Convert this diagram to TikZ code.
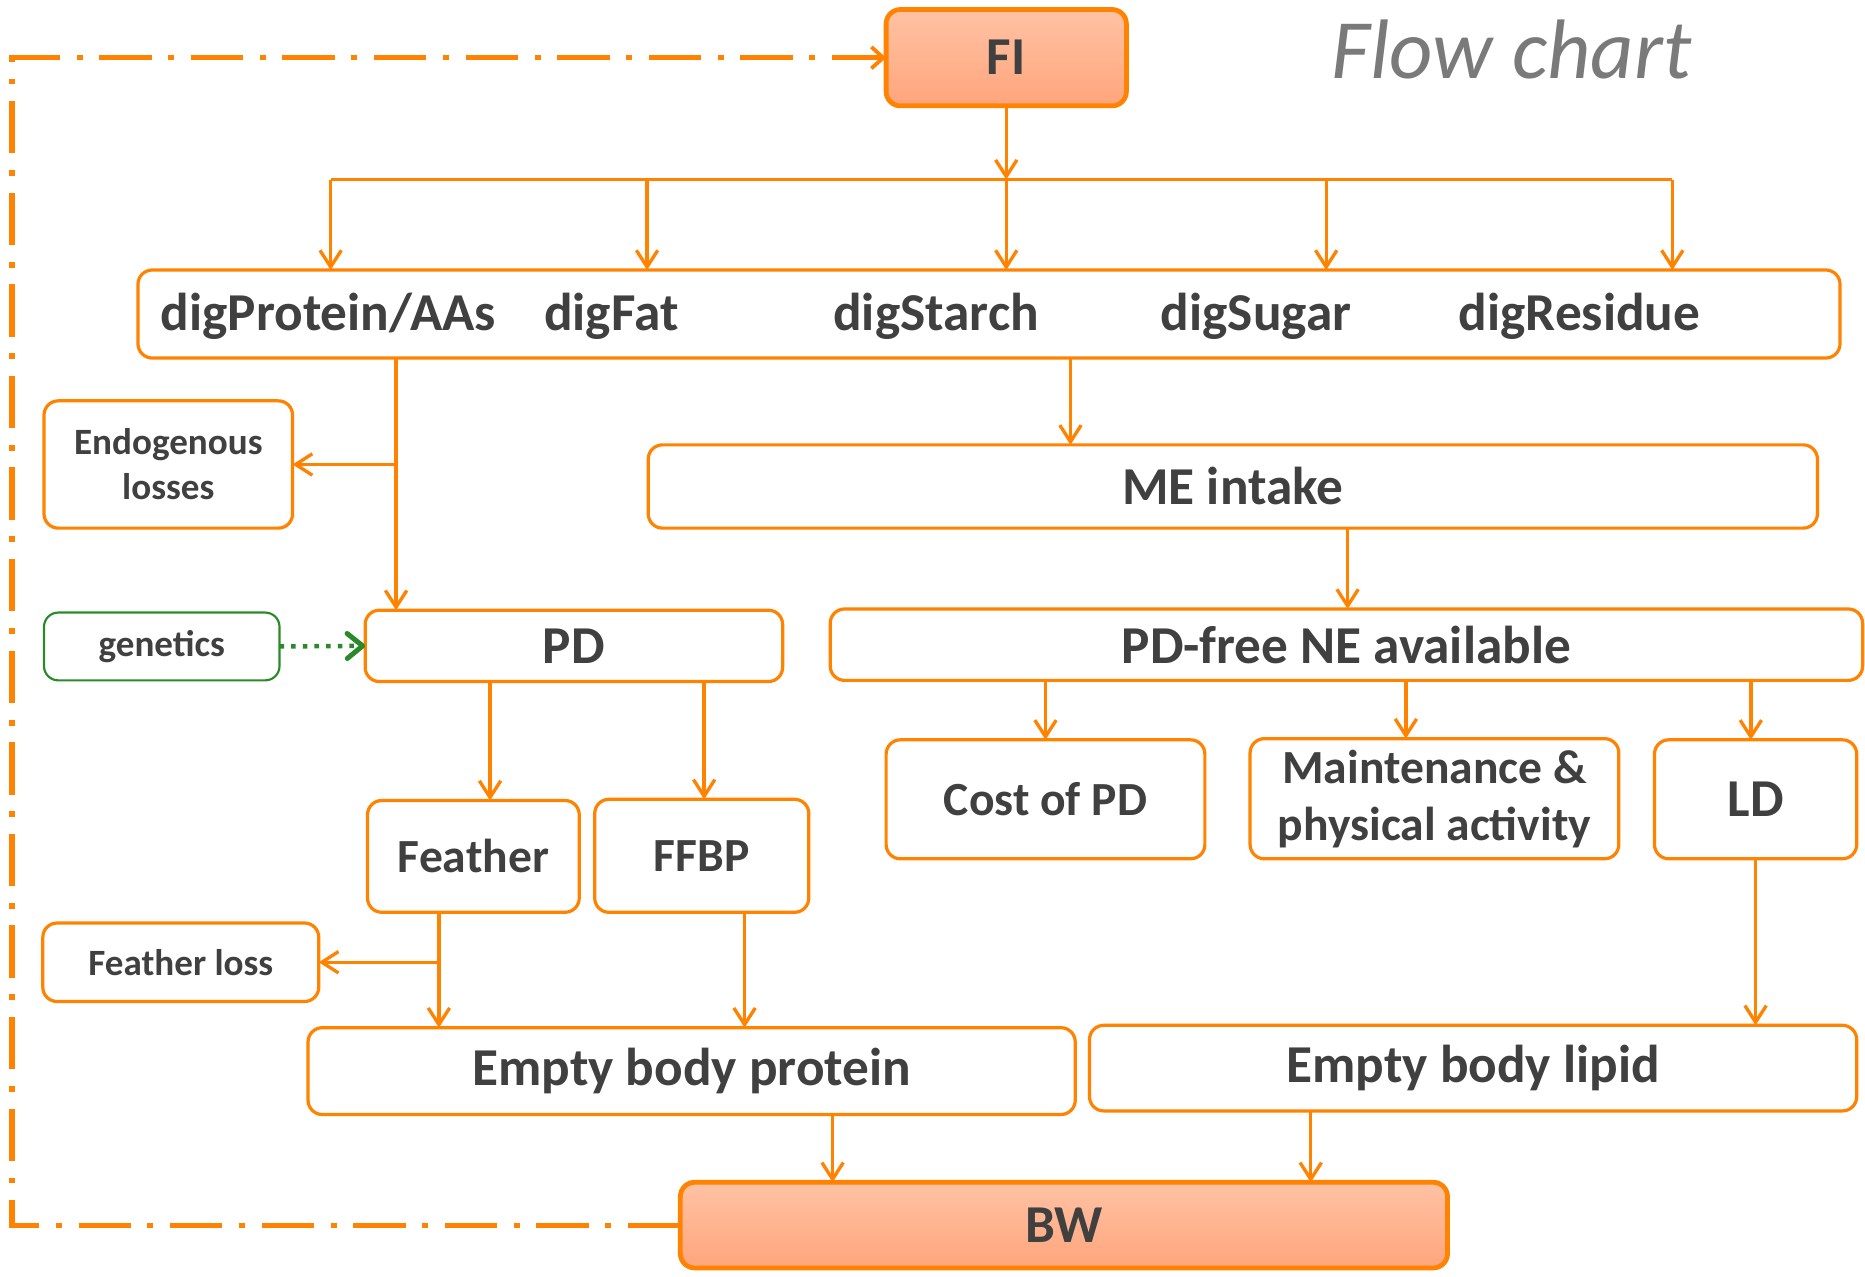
\documentclass[tikz,border=0pt]{standalone}
\usepackage{fontspec}
\setmainfont{Carlito}
\usetikzlibrary{arrows.meta,calc}
\definecolor{org}{HTML}{FF8200}
\definecolor{txt}{HTML}{404040}
\definecolor{grn}{HTML}{2A8A2A}
\definecolor{ttl}{HTML}{7A7A7A}
\definecolor{fillA}{HTML}{FFC2A4}
\definecolor{fillB}{HTML}{FFA57C}
\newcommand{\bigf}{\fontsize{22.4}{24}\selectfont\bfseries}
\newcommand{\midf}{\fontsize{20}{24}\selectfont\bfseries}
\newcommand{\smallf}{\fontsize{15.6}{19}\selectfont\bfseries}
\tikzset{
  bx/.style={draw=org, line width=1.35pt, rounded corners=6pt, inner sep=0pt, outer sep=0pt, text=txt, align=center, font=\bigf},
  mbx/.style={bx, font=\midf},
  sbx/.style={bx, font=\smallf},
  hbx/.style={bx, line width=2pt, top color=fillA, bottom color=fillB},
  lbl/.style={inner sep=0pt, text=txt, font=\bigf},
  conn/.style={draw=org, line width=1.4pt},
  arr/.style={conn, -{Straight Barb[length=7pt,width=9pt,line width=1.4pt]}},
  garr/.style={draw=grn, line width=1.9pt, dash pattern=on 1.9pt off 3pt, -{Straight Barb[length=6.5pt,width=10.5pt,line width=2.1pt,round]}},
  fb/.style={draw=org, line width=2.2pt, dash pattern=on 22pt off 7pt on 2.5pt off 7pt, -{Straight Barb[length=5pt,width=9pt,line width=1.6pt]}}
}
\begin{document}
\begin{tikzpicture}[x=0.5pt,y=-0.5pt]
\useasboundingbox (0,0) rectangle (1568,1073);
% title
\node[inner sep=0pt, text=ttl, font=\fontsize{35.5}{40}\selectfont\itshape] (title) at (1271,42) {Flow chart};
% boxes
\node[hbx, minimum width=101pt, minimum height=40.5pt] (FI) at (846,48.5) {FI};
\node[bx, minimum width=715.5pt, minimum height=37pt] (dig) at (831.5,264) {};
\node[lbl] (dp) at (276,266) {digProtein/AAs};
\node[lbl] (df) at (514,266) {digFat};
\node[lbl] (ds) at (787,266) {digStarch};
\node[lbl] (dsu) at (1056,266) {digSugar};
\node[lbl] (dr) at (1328,266) {digResidue};
\node[bx, minimum width=491.5pt, minimum height=35pt] (ME) at (1036.5,409) {ME intake};
\node[sbx, minimum width=104.5pt, minimum height=53.5pt] (endo) at (141.5,390.5) {Endogenous\\losses};
\node[sbx, draw=grn, line width=0.9pt, minimum width=99pt, minimum height=28.5pt] (gen) at (136,543.5) {genetics};
\node[bx, minimum width=175.5pt, minimum height=30pt] (PD) at (482.5,543) {PD};
\node[bx, minimum width=434pt, minimum height=30pt] (NE) at (1132,542) {PD-free NE available};
\node[mbx, minimum width=134pt, minimum height=50pt] (cost) at (879,672) {Cost of PD};
\node[mbx, minimum width=155pt, minimum height=50.5pt] (maint) at (1206,671.5) {Maintenance \&\\physical activity};
\node[bx, minimum width=85pt, minimum height=50pt] (LD) at (1476,672) {LD};
\node[mbx, minimum width=89pt, minimum height=47pt] (fea) at (398,720) {Feather};
\node[mbx, minimum width=90pt, minimum height=47.5pt] (ffbp) at (590,719.5) {FFBP};
\node[sbx, minimum width=116pt, minimum height=33pt] (floss) at (152,809) {Feather loss};
\node[bx, minimum width=322.5pt, minimum height=36.5pt] (ebp) at (581.5,900.5) {Empty body protein};
\node[bx, minimum width=322.5pt, minimum height=36pt] (ebl) at (1238.5,898) {Empty body lipid};
\node[hbx, minimum width=322.5pt, minimum height=36pt] (BW) at (894.5,1030) {BW};
% distribution bar
\coordinate (b1) at (278,151);
\coordinate (b2) at (544,151);
\coordinate (b3) at (846,151);
\coordinate (b4) at (1115,151);
\coordinate (b5) at (1406,151);
\draw[conn] (b1) -- (b5);
\draw[arr] (FI.south) -- (b3);
\foreach \b in {b1,b2,b3,b4,b5} \draw[arr] (\b) -- (\b |- dig.north);
% dig -> ME, dig -> PD
\coordinate (xm) at (900,0);
\draw[arr] (dig.south -| xm) -- (ME.north -| xm);
\coordinate (xp) at (333,390.5);
\draw[arr] (dig.south -| xp) -- (PD.north -| xp);
\draw[arr] (xp) -- (endo.east);
\draw[garr] (gen.east) -- (PD.west);
% ME -> NE
\coordinate (xn) at (1133,0);
\draw[arr] (ME.south -| xn) -- (NE.north -| xn);
\coordinate (xc) at (879,0);
\coordinate (xmt) at (1182,0);
\coordinate (xl) at (1472,0);
\draw[arr] (NE.south -| xc) -- (cost.north -| xc);
\draw[arr] (NE.south -| xmt) -- (maint.north -| xmt);
\draw[arr] (NE.south -| xl) -- (LD.north -| xl);
% PD -> Feather, FFBP
\coordinate (xf) at (412,0);
\coordinate (xb) at (592,0);
\draw[arr] (PD.south -| xf) -- (fea.north -| xf);
\draw[arr] (PD.south -| xb) -- (ffbp.north -| xb);
% Feather -> EBP, loss
\coordinate (xfl) at (369,809);
\draw[arr] (fea.south -| xfl) -- (ebp.north -| xfl);
\draw[arr] (xfl) -- (floss.east);
\coordinate (xfb) at (626,0);
\draw[arr] (ffbp.south -| xfb) -- (ebp.north -| xfb);
\coordinate (xld) at (1476,0);
\draw[arr] (LD.south) -- (ebl.north -| xld);
% to BW
\coordinate (xe1) at (700,0);
\coordinate (xe2) at (1102,0);
\draw[arr] (ebp.south -| xe1) -- (BW.north -| xe1);
\draw[arr] (ebl.south -| xe2) -- (BW.north -| xe2);
% feedback loop
\coordinate (lp) at (10,540);
\draw[fb] (BW.west) -| (lp) |- (FI.west);
\end{tikzpicture}
\end{document}
